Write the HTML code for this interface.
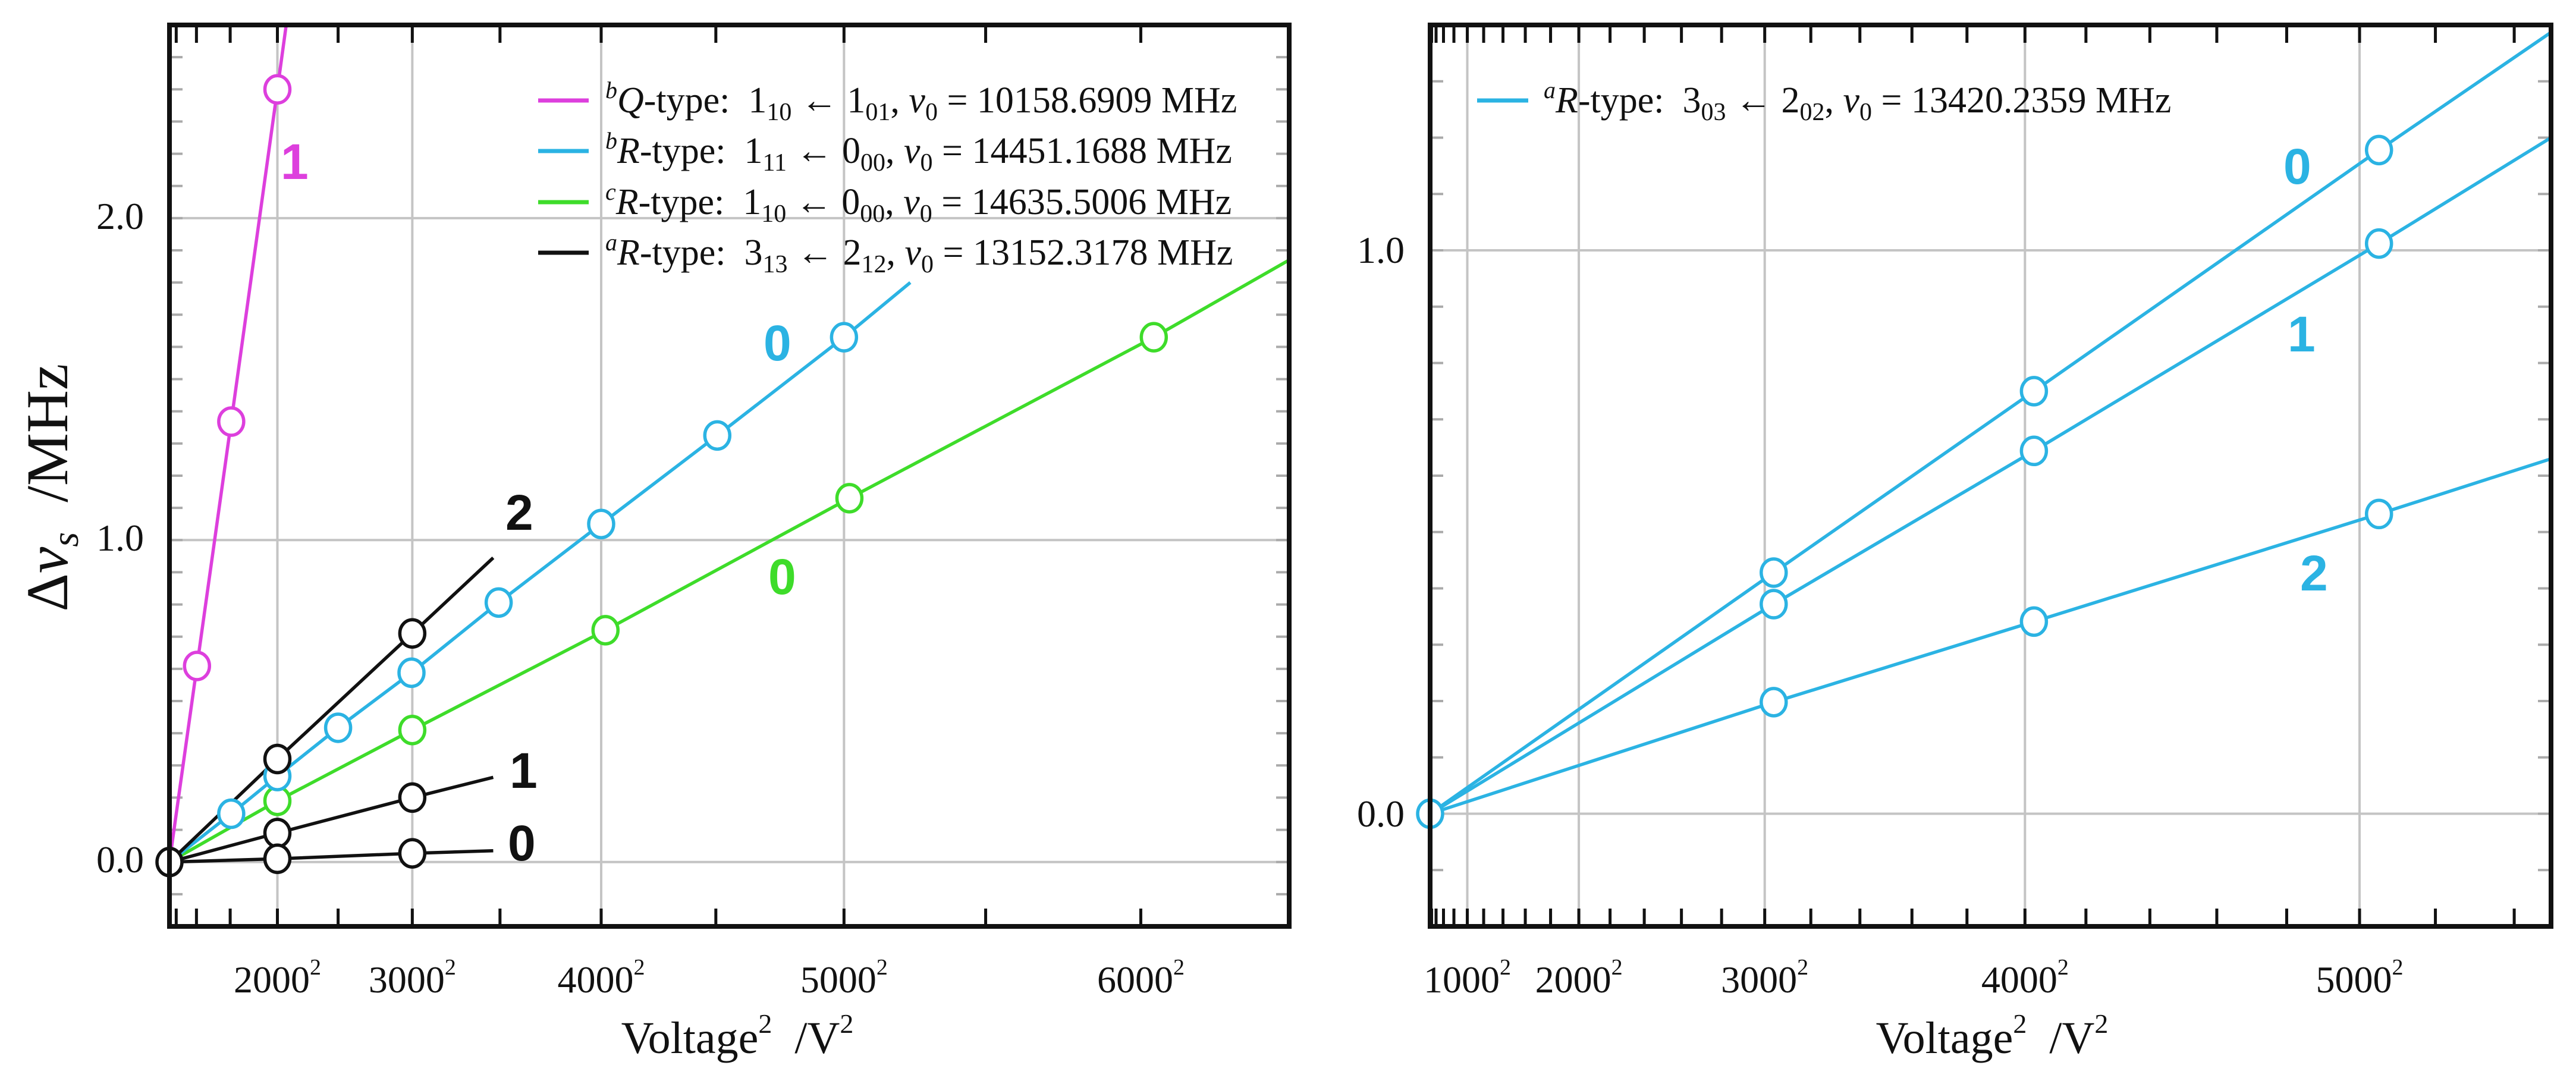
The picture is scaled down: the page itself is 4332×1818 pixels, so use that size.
<!DOCTYPE html>
<html><head><meta charset="utf-8">
<style>
html,body{margin:0;padding:0;background:#fff;}
#wrap{position:relative;width:4332px;height:1818px;overflow:hidden;background:#fff;font-family:"Liberation Serif",serif;}
svg{position:absolute;left:0;top:0;}
.t{position:absolute;white-space:nowrap;color:#111;line-height:1;}
.lg{font-size:62px;}
.lg sub{font-size:42px;vertical-align:-13px;line-height:0;}
.lg sup{font-size:40px;vertical-align:24px;line-height:0;font-style:italic;}
.tick{font-size:64px;}
.tick sup{font-size:38px;vertical-align:30px;line-height:0;}
.ytick{font-size:64px;text-align:right;width:130px;}
.ann{font-family:"Liberation Sans",sans-serif;font-weight:bold;font-size:84px;}
.xt{font-size:76px;}
.xt sup{font-size:46px;vertical-align:34px;line-height:0;}
</style></head>
<body>
<div id="wrap">
<svg id="svg" width="4332" height="1818"></svg>

<div class="t lg" style="left:1018px;top:138px"><sup>b</sup><i>Q</i>-type:&nbsp; 1<sub>10</sub> ← 1<sub>01</sub>, <i>ν</i><sub>0</sub> = 10158.6909 MHz</div>
<div class="t lg" style="left:1018px;top:223px"><sup>b</sup><i>R</i>-type:&nbsp; 1<sub>11</sub> ← 0<sub>00</sub>, <i>ν</i><sub>0</sub> = 14451.1688 MHz</div>
<div class="t lg" style="left:1018px;top:309px"><sup>c</sup><i>R</i>-type:&nbsp; 1<sub>10</sub> ← 0<sub>00</sub>, <i>ν</i><sub>0</sub> = 14635.5006 MHz</div>
<div class="t lg" style="left:1018px;top:394px"><sup>a</sup><i>R</i>-type:&nbsp; 3<sub>13</sub> ← 2<sub>12</sub>, <i>ν</i><sub>0</sub> = 13152.3178 MHz</div>
<div class="t lg" style="left:2596px;top:138px"><sup>a</sup><i>R</i>-type:&nbsp; 3<sub>03</sub> ← 2<sub>02</sub>, <i>ν</i><sub>0</sub> = 13420.2359 MHz</div>

<div class="t ytick" style="left:112px;top:1414px">0.0</div>
<div class="t ytick" style="left:112px;top:873px">1.0</div>
<div class="t ytick" style="left:112px;top:332px">2.0</div>
<div class="t ytick" style="left:2232px;top:1337px">0.0</div>
<div class="t ytick" style="left:2232px;top:389px">1.0</div>

<div class="t" style="left:-220px;top:770px;width:600px;text-align:center;font-size:100px;transform:rotate(-90deg);">Δ<i>ν</i><sub style="font-size:64px;vertical-align:-18px;line-height:0"><i>s</i></sub>&nbsp; /MHz</div>
<div class="t xt" style="left:980px;top:1708px;width:520px;text-align:center">Voltage<sup>2</sup>&nbsp; /V<sup>2</sup></div>
<div class="t xt" style="left:3090px;top:1708px;width:520px;text-align:center">Voltage<sup>2</sup>&nbsp; /V<sup>2</sup></div>

<div class="t ann" style="left:472px;top:230px;color:#dd3fdd">1</div>
<div class="t ann" style="left:1284px;top:535px;color:#2bb3e3">0</div>
<div class="t ann" style="left:1292px;top:928px;color:#3edc2a">0</div>
<div class="t ann" style="left:850px;top:820px;color:#111">2</div>
<div class="t ann" style="left:857px;top:1254px;color:#111">1</div>
<div class="t ann" style="left:854px;top:1376px;color:#111">0</div>
<div class="t ann" style="left:3840px;top:238px;color:#2bb3e3">0</div>
<div class="t ann" style="left:3847px;top:520px;color:#2bb3e3">1</div>
<div class="t ann" style="left:3868px;top:922px;color:#2bb3e3">2</div>
</div>

<script>
const leftQVolts = [1010, 1513, 2000];
const leftQVals = [0.609, 1.368, 2.40];
const leftQEnd = [2080, 2.6];
const leftBRVolts = [1513, 2000, 2500, 2995, 3493, 4000, 4506, 5000];
const leftBRVals = [0.15, 0.267, 0.417, 0.588, 0.806, 1.05, 1.325, 1.63];
const leftBREnd = [5240, 1.8];
const leftCRVolts = [2000, 3000, 4020, 5020, 6040];
const leftCRVals = [0.19, 0.41, 0.72, 1.13, 1.63];
const leftCREnd = [6442, 1.87];
const leftARVolts = [2000, 3000];
const leftAR2Vals = [0.32, 0.71];
const leftAR2End = [3464, 0.945];
const leftAR1Vals = [0.09, 0.20];
const leftAR1End = [3464, 0.263];
const leftAR0Vals = [0.01, 0.027];
const leftAR0End = [3464, 0.035];
const rightVolts = [3040, 4030, 5052];
const right0Vals = [0.428, 0.75, 1.178];
const right0End = [5491, 1.387];
const right1Vals = [0.372, 0.644, 1.012];
const right1End = [5491, 1.2];
const right2Vals = [0.198, 0.341, 0.532];
const right2End = [5491, 0.63];
const leftTickVolts = [2000, 3000, 4000, 5000, 6000];
const leftTickLabels = ["2000", "3000", "4000", "5000", "6000"];
const rightTickVolts = [1000, 2000, 3000, 4000, 5000];
const rightTickLabels = ["1000", "2000", "3000", "4000", "5000"];

const NS = "http://www.w3.org/2000/svg";
const svg = document.getElementById('svg');
const wrap = document.getElementById('wrap');
const MAG = "#dd3fdd", CYA = "#2bb3e3", GRN = "#3edc2a", BLK = "#111";

function mk(tag, attrs, parent) {
  const e = document.createElementNS(NS, tag);
  for (const k in attrs) e.setAttribute(k, attrs[k]);
  (parent || svg).appendChild(e);
  return e;
}

function panel(P) {
  const X = v => P.x0 + (v * v / 1e6) / P.xmax * (P.x1 - P.x0);
  const Y = d => P.top + (P.ymax - d) / (P.ymax - P.ymin) * (P.bot - P.top);
  const g = mk('g', {});
  
  
  const cp = mk('clipPath', { id: P.name + '-clip' }, g);
  mk('rect', { x: P.x0, y: P.top, width: P.x1 - P.x0, height: P.bot - P.top }, cp);
  P.gridV.forEach(v => {
    const l = mk('line', { x1: X(v), x2: X(v), y1: P.top, y2: P.bot, stroke: '#c4c4c4', 'stroke-width': 4 }, g);
    
    
  });
  P.gridY.forEach(d => {
    const l = mk('line', { x1: P.x0, x2: P.x1, y1: Y(d), y2: Y(d), stroke: '#c4c4c4', 'stroke-width': 4 }, g);
    
    
  });
  for (let d = P.ymin + 0.1; d < P.ymax - 0.01; d += 0.1) {
    [[P.x0, P.x0 + 22], [P.x1 - 22, P.x1]].forEach(s => {
      const l = mk('line', { x1: s[0], x2: s[1], y1: Y(d), y2: Y(d), stroke: '#aaa', 'stroke-width': 4 }, g);
      
      
    });
  }
  P.tickV.forEach(v => {
    const xx = X(v);
    if (xx <= P.x0 + 2 || xx >= P.x1) return;
    [[P.bot, P.bot - 30], [P.top, P.top + 30]].forEach(s => {
      const l = mk('line', { x1: xx, x2: xx, y1: s[0], y2: s[1], stroke: BLK, 'stroke-width': 5 }, g);
      
      
    });
  });
  const sg = mk('g', { 'clip-path': 'url(#' + P.name + '-clip)' }, g);
  P.series.forEach(s => {
    const pts = [[0, 0]].concat(s.volts.map((v, i) => [v, s.vals[i]])).concat([s.end]);
    const pl = mk('polyline', { points: pts.map(p => X(p[0]) + ',' + Y(p[1])).join(' '), fill: 'none', stroke: s.color, 'stroke-width': 5.5 }, sg);
    
    
  });
  P.series.forEach(s => {
    s.volts.forEach((v, i) => {
      const c = mk('ellipse', { cx: X(v), cy: Y(s.vals[i]), rx: 21, ry: 23, fill: '#fff', stroke: s.color, 'stroke-width': 5.5 }, g);
      
      
    });
  });
  const oc = mk('ellipse', { cx: X(0), cy: Y(0), rx: 21, ry: 23, fill: '#fff', stroke: P.originColor, 'stroke-width': 5.5 }, g);
  
  
  const fr = mk('rect', { x: P.x0, y: P.top, width: P.x1 - P.x0, height: P.bot - P.top, fill: 'none', stroke: BLK, 'stroke-width': 8 }, g);
  
  
  P.legend.forEach(L => {
    const l = mk('line', { x1: L[0], x2: L[1], y1: L[2], y2: L[2], stroke: L[3], 'stroke-width': 7 }, g);
    
    
  });
  P.labV.forEach((v, i) => {
    const d = document.createElement('div');
    d.className = 't tick';
    d.style.left = (X(v) - 90) + 'px';
    d.style.top = '1616px';
    d.style.width = '180px';
    d.style.textAlign = 'center';
    d.innerHTML = P.labT[i] + '<sup>2</sup>';
    
    
    wrap.appendChild(d);
  });
}

const minorL = [], minorR = [];
for (let v = 500; v <= 6500; v += 500) minorL.push(v);
for (let v = 200; v <= 5400; v += 200) minorR.push(v);

panel({
  name: 'left-panel', x0: 285, x1: 2168, xmax: 41.5, top: 42, bot: 1558, ymin: -0.2, ymax: 2.6,
  gridV: [2000, 3000, 4000, 5000], gridY: [0, 1, 2], tickV: minorL,
  labV: leftTickVolts, labT: leftTickLabels, originColor: BLK,
  series: [
    { name: 'bq-type', color: MAG, volts: leftQVolts, vals: leftQVals, end: leftQEnd },
    { name: 'cr-type', color: GRN, volts: leftCRVolts, vals: leftCRVals, end: leftCREnd },
    { name: 'br-type', color: CYA, volts: leftBRVolts, vals: leftBRVals, end: leftBREnd },
    { name: 'ar-type-2', color: BLK, volts: leftARVolts, vals: leftAR2Vals, end: leftAR2End },
    { name: 'ar-type-1', color: BLK, volts: leftARVolts, vals: leftAR1Vals, end: leftAR1End },
    { name: 'ar-type-0', color: BLK, volts: leftARVolts, vals: leftAR0Vals, end: leftAR0End }
  ],
  legend: [[905, 990, 169, MAG], [905, 990, 254, CYA], [905, 990, 340, GRN], [905, 990, 425, BLK]]
});
panel({
  name: 'right-panel', x0: 2405, x1: 4290, xmax: 30.15, top: 42, bot: 1558, ymin: -0.2, ymax: 1.4,
  gridV: [1000, 2000, 3000, 4000, 5000], gridY: [0, 1], tickV: minorR,
  labV: rightTickVolts, labT: rightTickLabels, originColor: CYA,
  series: [
    { name: 'right-row-0', color: CYA, volts: rightVolts, vals: right0Vals, end: right0End },
    { name: 'right-row-1', color: CYA, volts: rightVolts, vals: right1Vals, end: right1End },
    { name: 'right-row-2', color: CYA, volts: rightVolts, vals: right2Vals, end: right2End }
  ],
  legend: [[2484, 2570, 169, CYA]]
});
</script>
</body></html>
